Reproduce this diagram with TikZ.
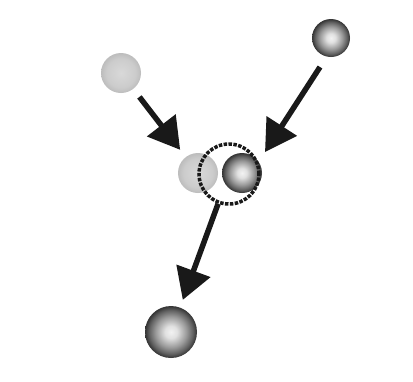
\documentclass[tikz,border=0pt]{standalone}
\usetikzlibrary{arrows.meta,calc}
\pgfdeclareradialshading{darkball}{\pgfpoint{0bp}{0bp}}{%
  color(0bp)=(black!5);
  color(6bp)=(black!12);
  color(15bp)=(black!40);
  color(21bp)=(black!62);
  color(25bp)=(black!80);
  color(50bp)=(black!80)}
\pgfdeclareradialshading{lightball}{\pgfpoint{0bp}{0bp}}{%
  color(0bp)=(black!15);
  color(18bp)=(black!20);
  color(25bp)=(black!26);
  color(50bp)=(black!26)}
\tikzset{
  lball/.style={circle, inner sep=0pt, minimum size=#1, shading=lightball},
  dball/.style={circle, inner sep=0pt, minimum size=#1, shading=darkball},
  arr/.style={line width=5.5pt, draw=black!90, -{Triangle[length=31pt,width=35pt]}},
  ring/.style={circle, inner sep=0pt, minimum size=60pt, draw=black!90, line width=3.5pt, dash pattern=on 3.5pt off 1.4pt}
}
\begin{document}
\begin{tikzpicture}[x=1pt,y=-1pt]
\useasboundingbox[fill=white] (0,0) rectangle (413,381);
\node[lball=40pt] (tl) at (121,73) {};
\node[dball=38pt] (tr) at (331,38) {};
\node[lball=40pt] (ml) at (198,173) {};
\node[dball=40pt] (db) at (242,173) {};
\node[ring] (dc) at (229,174) {};
\node[dball=52pt] (bb) at (171,332) {};
\draw[arr, shorten <=10pt, shorten >=9pt] (tl) -- (ml);
\draw[arr] ($(tr)+(-11,29)$) -- ($(db)+(23,-21)$);
\draw[arr, shorten >=8pt] (dc) -- (bb);
\end{tikzpicture}
\end{document}
